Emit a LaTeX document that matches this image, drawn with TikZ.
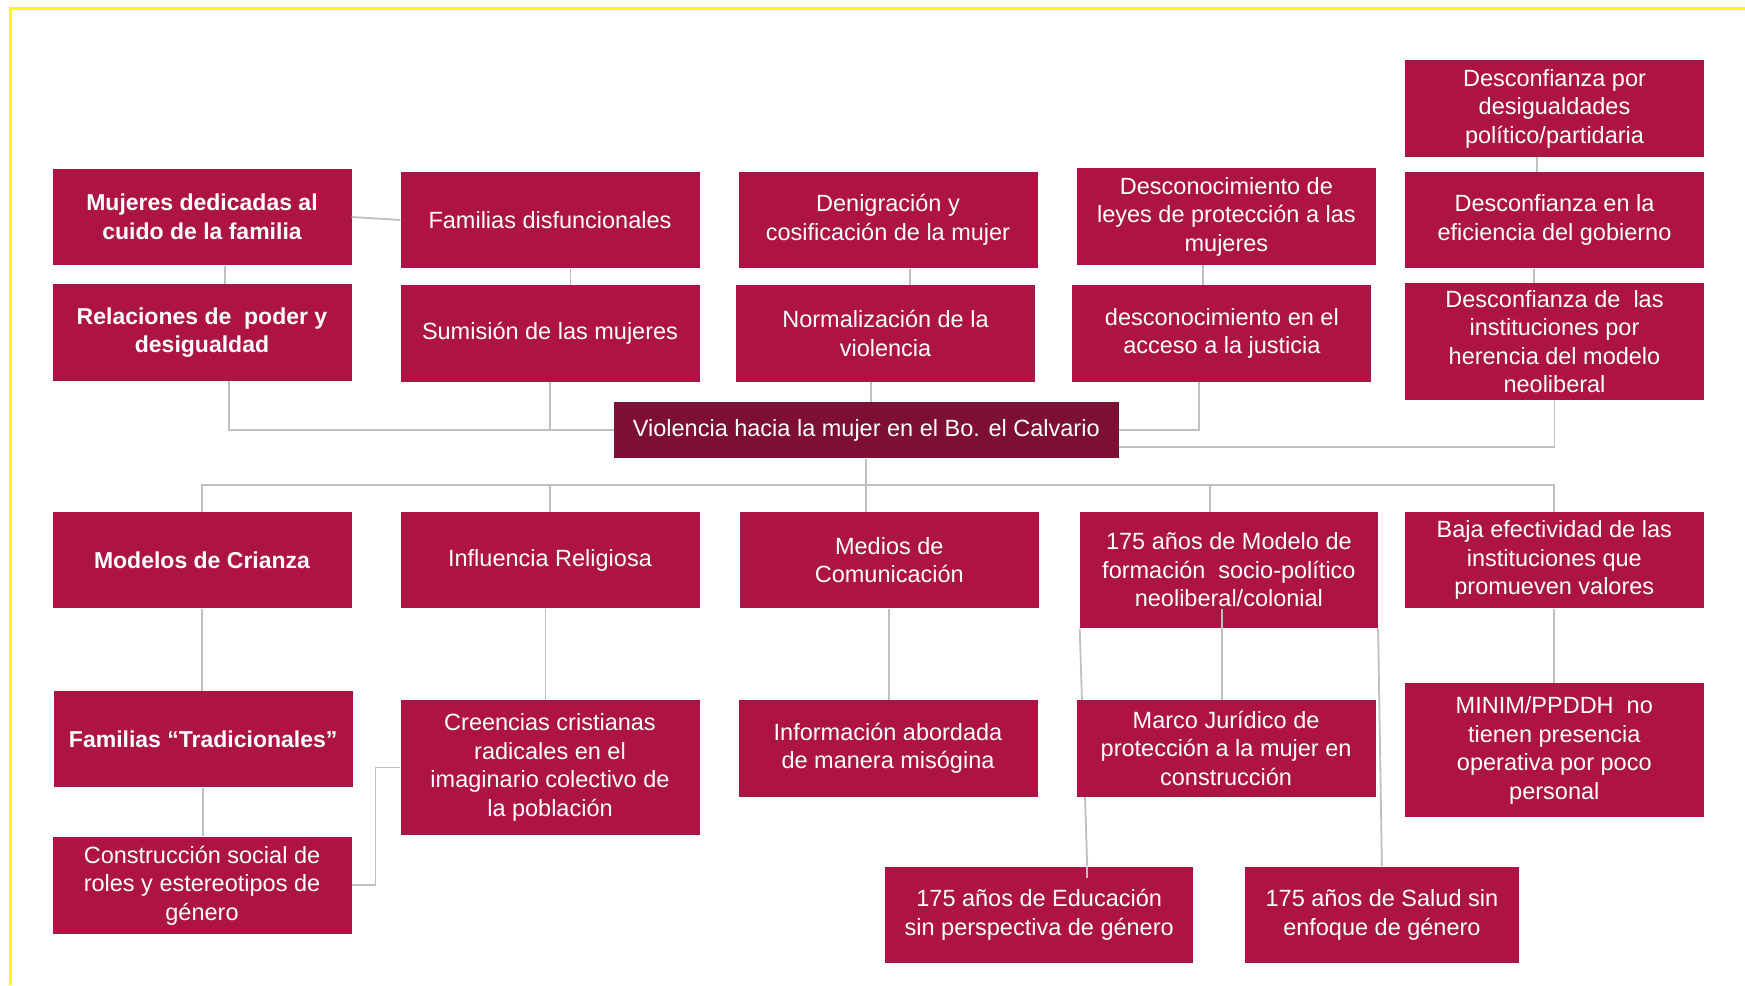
\documentclass[tikz,border=0pt]{standalone}
\usepackage{fontspec}
\setmainfont{Liberation Sans}
\usetikzlibrary{backgrounds}
\definecolor{boxred}{HTML}{AE1443}
\definecolor{darkred}{HTML}{7C0F33}
\definecolor{conn}{RGB}{192,192,192}
\definecolor{frameyellow}{RGB}{255,255,0}
\tikzset{
  box/.style={fill=boxred, text=white, align=center, inner sep=0pt,
    minimum width=299pt, minimum height=96.6pt,
    font=\fontsize{23.5}{28.5}\selectfont},
  boldbox/.style={box, font=\fontsize{23}{28.5}\selectfont\bfseries},
  mainbox/.style={box, fill=darkred, minimum width=504.6pt, minimum height=56.6pt},
  link/.style={draw=conn, line width=1.8pt},
}
\begin{document}
\begin{tikzpicture}[x=1pt, y=-1pt]
\useasboundingbox (0,0) rectangle (1745,985);

% upper boxes
\node[boldbox] (muj) at (202,217) {Mujeres dedicadas al\\cuido de la familia};
\node[box] (fdis) at (550,220) {Familias disfuncionales};
\node[box] (deni) at (888,220) {Denigración y\\cosificación de la mujer};
\node[box] (dley) at (1226.4,216.7) {Desconocimiento de\\leyes de protección a las\\mujeres};
\node[box] (dpor) at (1554.5,108.5) {Desconfianza por\\desigualdades\\político/partidaria};
\node[box] (den) at (1554.5,220) {Desconfianza en la\\eficiencia del gobierno};
\node[boldbox] (rel) at (202,332.5) {Relaciones de \ poder y\\desigualdad};
\node[box] (sum) at (550,333.3) {Sumisión de las mujeres};
\node[box] (norm) at (885.5,333.3) {Normalización de la\\violencia};
\node[box] (dacc) at (1221.9,333.3) {desconocimiento en el\\acceso a la justicia};
\node[box, minimum height=116.7pt] (dinst) at (1554.5,341.7) {Desconfianza de \ las\\instituciones por\\herencia del modelo\\neoliberal};

\node[mainbox] (viol) at (866.3,430) {Violencia hacia la mujer en el Bo. el Calvario};

% lower boxes
\node[boldbox] (mod) at (202,560) {Modelos de Crianza};
\node[box] (infl) at (550,560) {Influencia Religiosa};
\node[box] (med) at (889.3,560) {Medios de\\Comunicación};
\node[box, minimum width=298pt, minimum height=116.6pt] (m175) at (1228.9,570) {175 años de Modelo de\\formación \ socio-político\\neoliberal/colonial};
\node[box] (baja) at (1554.3,560) {Baja efectividad de las\\instituciones que\\promueven valores};
\node[boldbox] (ftrad) at (203.2,739) {Familias “Tradicionales”};
\node[box, minimum height=135pt] (cree) at (550,767.5) {Creencias cristianas\\radicales en el\\imaginario colectivo de\\la población};
\node[box] (info) at (888,748.3) {Información abordada\\de manera misógina};
\node[box] (marco) at (1226.1,748.3) {Marco Jurídico de\\protección a la mujer en\\construcción};
\node[box, minimum height=134pt] (minim) at (1554.3,750.3) {MINIM/PPDDH \ no\\tienen presencia\\operativa por poco\\personal};
\node[box, minimum height=97.3pt] (cons) at (202,885.3) {Construcción social de\\roles y estereotipos de\\género};
\node[box, minimum width=307.8pt] (edu) at (1039.2,915) {175 años de Educación\\sin perspectiva de género};
\node[box, minimum width=273.2pt] (sal) at (1381.9,915) {175 años de Salud sin\\enfoque de género};

\begin{scope}[on background layer]
\fill[white] (0,0) rectangle (1745,985);
\draw[link] (m175.south west) -- ([xshift=48pt]edu.north);
\end{scope}
\draw[frameyellow, line width=3.5pt] (10.7,985) -- (10.7,8.3) -- (1745,8.3);

% connectors, upper part
\draw[link] (muj.east) -- (fdis.west);
\draw[link] ([xshift=23pt]muj.south) -- ([xshift=23pt]muj.south |- rel.north);
\draw[link] ([xshift=20.5pt]fdis.south) -- ([xshift=20.5pt]fdis.south |- sum.north);
\draw[link] ([xshift=22pt]deni.south) -- ([xshift=22pt]deni.south |- norm.north);
\draw[link] ([xshift=-23.4pt]dley.south) -- ([xshift=-23.4pt]dley.south |- dacc.north);
\draw[link] ([xshift=-17.5pt]dpor.south) -- ([xshift=-17.5pt]dpor.south |- den.north);
\draw[link] ([xshift=-20.5pt]den.south) -- ([xshift=-20.5pt]den.south |- dinst.north);
\draw[link] ([xshift=26.6pt]rel.south) |- (viol.west);
\draw[link] (sum.south) |- (viol.west);
\draw[link] ([xshift=-14.5pt]norm.south) -- ([xshift=-14.5pt]norm.south |- viol.north);
\draw[link] ([xshift=-23pt]dacc.south) |- (viol.east);
\draw[link] (dinst.south) |- ([yshift=-16.7pt]viol.east);

% connectors, lower part
\coordinate (bus) at (866.3,485);
\draw[link] (viol.south) -- (viol.south |- med.north);
\draw[link] (mod.north) |- (baja.north |- bus) -- (baja.north);
\draw[link] (infl.north) -- (infl.north |- bus);
\draw[link] ([xshift=-19pt]m175.north) -- ([xshift=-19pt]m175.north |- bus);
\draw[link] (mod.south) -- (mod.south |- ftrad.north);
\draw[link] (ftrad.south) -- (ftrad.south |- cons.north);
\draw[link] ([xshift=-4.5pt]infl.south) -- ([xshift=-4.5pt]infl.south |- cree.north);
\draw[link] (cons.east) -- ++(23.7,0) |- (cree.west);
\draw[link] (med.south) -- (med.south |- info.north);
\draw[link] ([xshift=-7pt,yshift=20pt]m175.south) -- ([xshift=-7pt]m175.south |- marco.north);
\draw[link] ([xshift=48pt]edu.north) -- ([xshift=48pt,yshift=-11.6pt]edu.north);
\draw[link] (m175.south east) -- (sal.north);
\draw[link] (baja.south) -- (minim.north);
\end{tikzpicture}
\end{document}
